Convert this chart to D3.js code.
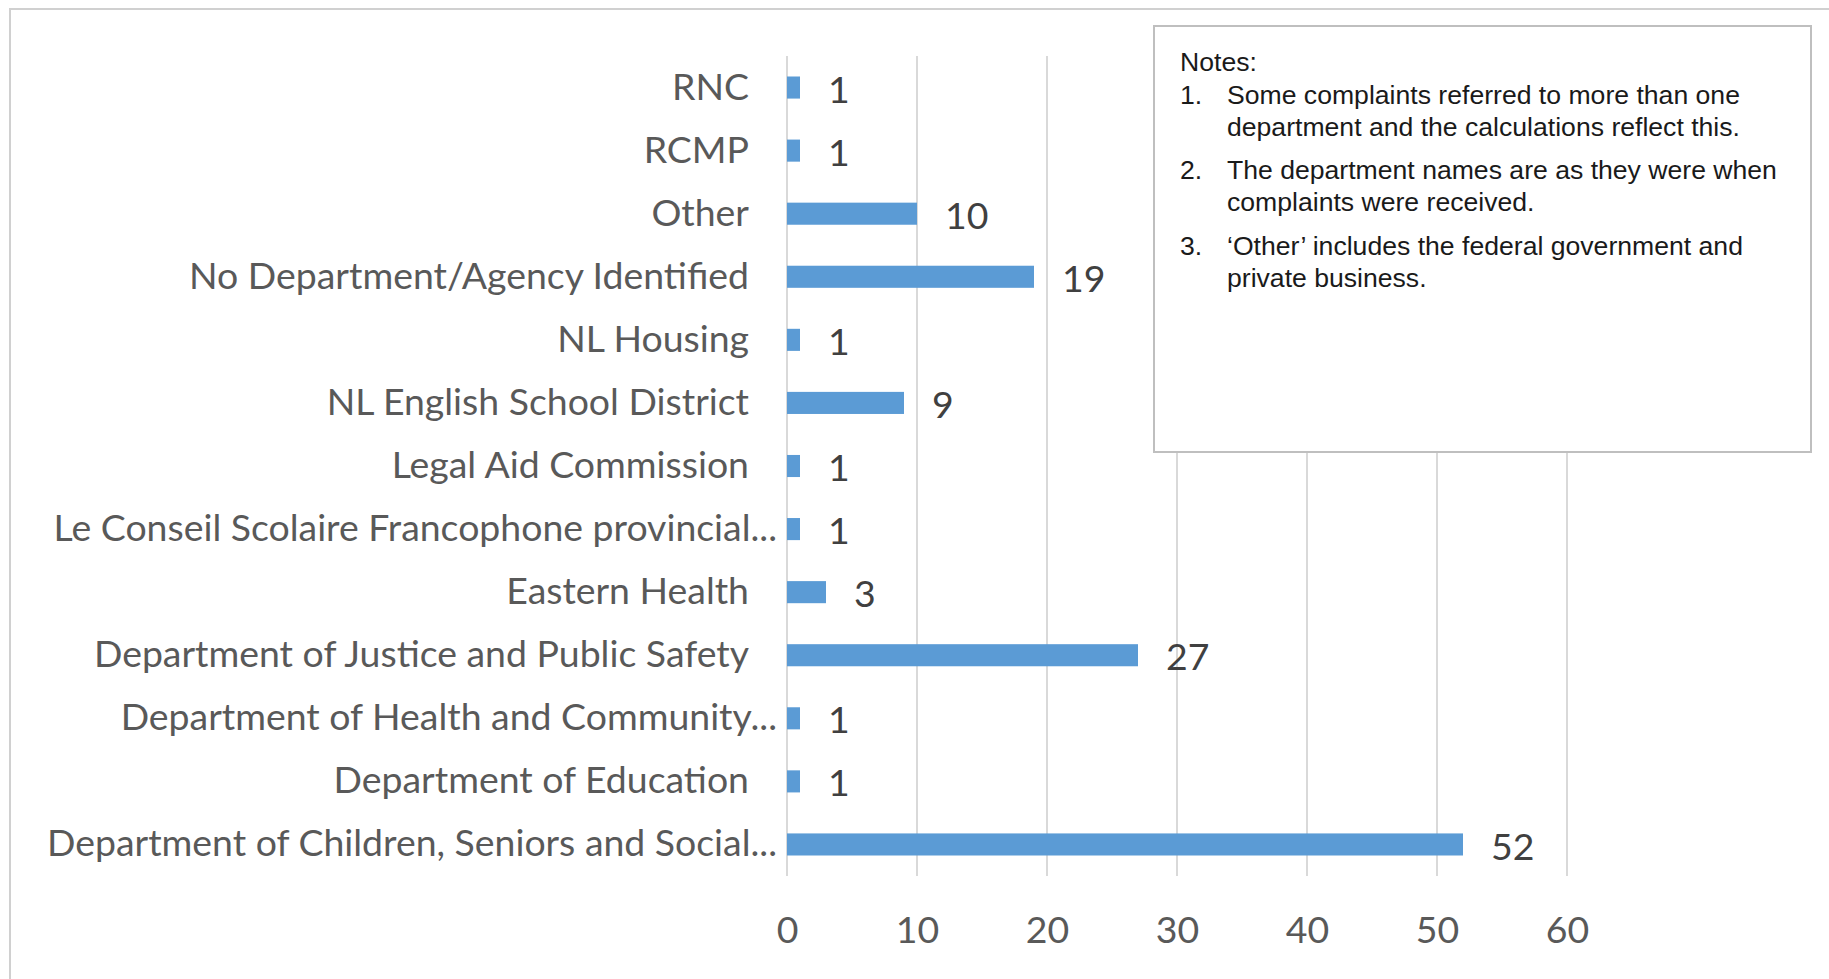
<!DOCTYPE html>
<html>
<head>
<meta charset="utf-8">
<script src="https://cdn.jsdelivr.net/npm/d3@7"></script>
<style>
  body { margin: 0; background: #fff; }
  svg { display: block; }
</style>
</head>
<body>
<div id="chart"></div>
<script>
// categories, top to bottom as drawn
const categories = [
  "RNC",
  "RCMP",
  "Other",
  "No Department/Agency Identified",
  "NL Housing",
  "NL English School District",
  "Legal Aid Commission",
  "Le Conseil Scolaire Francophone provincial...",
  "Eastern Health",
  "Department of Justice and Public Safety",
  "Department of Health and Community...",
  "Department of Education",
  "Department of Children, Seniors and Social..."
];
const complaints = [1, 1, 10, 19, 1, 9, 1, 1, 3, 27, 1, 1, 52];
const xTicks = [0, 10, 20, 30, 40, 50, 60];
const notesTitle = "Notes:";
const notes = [
  ["Some complaints referred to more than one", "department and the calculations reflect this."],
  ["The department names are as they were when", "complaints were received."],
  ["\u2018Other\u2019 includes the federal government and", "private business."]
];

const W = 1829, H = 979;
const plot = { left: 787, right: 1567, top: 56, bottom: 876 };

const svg = d3.select("#chart")
  .append("svg")
  .attr("width", W)
  .attr("height", H);

// outer frame (runs off the right and bottom edge like the reference)
svg.append("rect")
  .attr("x", 10)
  .attr("y", 9)
  .attr("width", W + 20)
  .attr("height", H + 20)
  .attr("fill", "#fff")
  .attr("stroke", "#d0d0d0")
  .attr("stroke-width", 2);

const labelFont = "Lato, 'Open Sans', sans-serif";

// pick a font size so the labels take the same width as in the picture
function fitSize(family, text, target) {
  const t = svg.append("text")
    .style("font-family", family)
    .style("font-size", "100px")
    .text(text);
  const w = t.node().getComputedTextLength();
  t.remove();
  return 100 * target / w;
}
const labelSize = fitSize(labelFont, "No Department/Agency Identified", 560);

const xScale = d3.scaleLinear()
  .domain([0, 60])
  .range([plot.left, plot.right]);

const yScale = d3.scaleBand()
  .domain(categories)
  .range([plot.top, plot.bottom])
  .paddingInner(0.65)
  .paddingOuter(0.325);

// gridlines
svg.append("g")
  .attr("class", "grid")
  .selectAll("line")
  .data(xTicks)
  .enter().append("line")
  .attr("x1", d => xScale(d))
  .attr("x2", d => xScale(d))
  .attr("y1", plot.top)
  .attr("y2", plot.bottom)
  .style("stroke", "#d9d9d9")
  .style("stroke-width", 2);

// x axis labels
const xAxis = d3.axisBottom(xScale)
  .tickValues(xTicks)
  .tickSize(0)
  .tickPadding(0)
  .tickFormat(d3.format("d"));

const xAxisG = svg.append("g")
  .attr("class", "x-axis")
  .attr("transform", `translate(0, ${plot.bottom})`)
  .call(xAxis);
xAxisG.select(".domain").remove();
xAxisG.selectAll("text")
  .attr("y", 54)
  .attr("dy", "0.35em")
  .style("font-family", labelFont)
  .style("font-size", labelSize + "px")
  .style("fill", "#595959");

// y axis labels
const yAxis = d3.axisLeft(yScale).tickSize(0).tickPadding(0);
const yAxisG = svg.append("g")
  .attr("class", "y-axis")
  .attr("transform", `translate(${plot.left}, 0)`)
  .call(yAxis);
yAxisG.select(".domain").remove();
yAxisG.selectAll("text")
  .attr("x", d => d.endsWith("...") ? -10 : -38)
  .attr("dy", "0.32em")
  .style("font-family", labelFont)
  .style("font-size", labelSize + "px")
  .style("fill", "#595959");

// bars
const rows = categories.map((c, i) => ({ name: c, value: complaints[i] }));

svg.append("g")
  .attr("class", "bars")
  .selectAll("rect")
  .data(rows)
  .enter().append("rect")
  .attr("x", xScale(0))
  .attr("y", d => yScale(d.name))
  .attr("width", d => xScale(d.value) - xScale(0))
  .attr("height", yScale.bandwidth())
  .attr("fill", "#5b9bd5");

// value labels
svg.append("g")
  .attr("class", "values")
  .selectAll("text")
  .data(rows)
  .enter().append("text")
  .attr("x", d => xScale(d.value) + 28)
  .attr("y", d => yScale(d.name) + yScale.bandwidth() / 2 + 2)
  .attr("dy", "0.35em")
  .style("font-family", labelFont)
  .style("font-size", labelSize + "px")
  .style("fill", "#404040")
  .text(d => d.value);

// notes box
const box = { x: 1154, y: 26, w: 657, h: 426 };
const notesG = svg.append("g").attr("class", "notes");
notesG.append("rect")
  .attr("x", box.x)
  .attr("y", box.y)
  .attr("width", box.w)
  .attr("height", box.h)
  .attr("fill", "#fff")
  .attr("stroke", "#bfbfbf")
  .attr("stroke-width", 2);

const noteFont = "'Liberation Sans', Arial, sans-serif";
const noteSize = 26.6;
notesG.append("text")
  .attr("x", 1180)
  .attr("y", 71)
  .style("font-family", noteFont)
  .style("font-size", noteSize + "px")
  .style("fill", "#1a1a1a")
  .text(notesTitle);

const noteTops = [104, 179, 255];
notes.forEach((lines, i) => {
  notesG.append("text")
    .attr("x", 1180)
    .attr("y", noteTops[i])
    .style("font-family", noteFont)
    .style("font-size", noteSize + "px")
    .style("fill", "#1a1a1a")
    .text((i + 1) + ".");
  lines.forEach((line, j) => {
    notesG.append("text")
      .attr("x", 1227)
      .attr("y", noteTops[i] + j * 32)
      .style("font-family", noteFont)
      .style("font-size", noteSize + "px")
      .style("fill", "#1a1a1a")
      .text(line);
  });
});
</script>
</body>
</html>
